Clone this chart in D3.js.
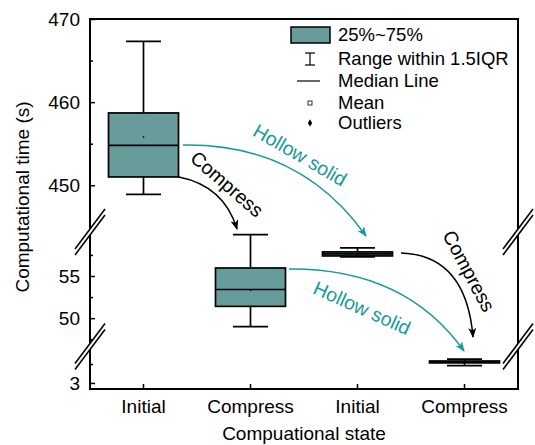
<!DOCTYPE html>
<html>
<head>
<meta charset="utf-8">
<script src="https://cdn.jsdelivr.net/npm/d3@7"></script>
<style>
  body { margin: 0; background: #fff; }
  text { font-family: "Liberation Sans", Arial, sans-serif; }
</style>
</head>
<body>
<script>
// box plot data (s)
const categories = ["Initial", "Compress", "Initial", "Compress"];
const whiskerLow = [448.9, 49.0, 57.26, 3.46];
const q1 = [451.0, 51.4, 57.38, 3.53];
const median = [454.8, 53.4, 57.62, 3.55];
const q3 = [458.7, 55.95, 57.86, 3.58];
const whiskerHigh = [467.3, 59.9, 58.33, 3.63];
const means = [455.8, 53.3, 57.6, 3.55];

// y axis pieces (broken axis)
const segTop = {domain: [444.5, 470], major: [450, 460, 470], minor: [445, 455, 465]};
const segMid = {domain: [46.7, 60.1], major: [50, 55], minor: [47.5, 52.5, 57.5]};
const segBot = {domain: [2.84, 3.95], major: [3], minor: [3.5]};

const legendLabels = ["25%~75%", "Range within 1.5IQR", "Median Line", "Mean", "Outliers"];

const width = 535, height = 445;
const margin = {top: 19, left: 90, right: 17, bottom: 56};
const plotW = width - margin.left - margin.right;
const plotH = height - margin.top - margin.bottom;
const boxFill = "#679c9b";
const teal = "#18999a";

const svg = d3.select("body").append("svg")
  .attr("width", width)
  .attr("height", height);

const g = svg.append("g")
  .attr("transform", `translate(${margin.left},${margin.top})`);

// scale for each segment (pixels inside plot group)
const yTop = d3.scaleLinear().domain(segTop.domain).range([212, 0]);
const yMid = d3.scaleLinear().domain(segMid.domain).range([327, 214]);
const yBot = d3.scaleLinear().domain(segBot.domain).range([plotH, 328]);
const yScales = [yTop, yMid, yMid, yBot];

const x = d3.scaleBand().domain(d3.range(categories.length)).range([0, plotW]);
const cx = i => x(i) + x.bandwidth() / 2;

// frame
g.append("rect")
  .attr("width", plotW).attr("height", plotH)
  .attr("fill", "none").attr("stroke", "#000").attr("stroke-width", 2);

// y ticks and labels
[[segTop, yTop], [segMid, yMid], [segBot, yBot]].forEach(([seg, sc]) => {
  const ax = g.append("g")
    .call(d3.axisLeft(sc).tickValues(seg.major).tickSize(-5).tickPadding(10).tickFormat(d3.format("d")));
  ax.select(".domain").remove();
  ax.selectAll("line").attr("stroke-width", 1.5);
  ax.selectAll("text").attr("font-size", 19).attr("fill", "#000")
    .style("font-family", "'Liberation Sans', Arial, sans-serif");
  const mn = g.append("g")
    .call(d3.axisLeft(sc).tickValues(seg.minor).tickSize(-3).tickFormat(""));
  mn.select(".domain").remove();
  mn.selectAll("line").attr("stroke-width", 1.5);
});

// x axis
const xa = g.append("g")
  .attr("transform", `translate(0,${plotH})`)
  .call(d3.axisBottom(x).tickSize(-5).tickPadding(11).tickFormat(i => categories[i]));
xa.select(".domain").remove();
xa.selectAll("line").attr("stroke-width", 1.5);
xa.selectAll("text").attr("font-size", 19).attr("fill", "#000")
  .style("font-family", "'Liberation Sans', Arial, sans-serif");

// axis titles
svg.append("text")
  .attr("transform", `translate(29,${margin.top + 178}) rotate(-90)`)
  .attr("text-anchor", "middle").attr("font-size", 19)
  .text("Computational time (s)");
svg.append("text")
  .attr("x", margin.left + plotW / 2).attr("y", 440)
  .attr("text-anchor", "middle").attr("font-size", 19)
  .text("Compuational state");

// axis breaks
function axisBreak(px, py) {
  const dx = 15, dy = 20, off = 3;
  const b = g.append("g");
  b.append("polygon")
    .attr("points", [[px - dx, py + dy - off], [px + dx, py - dy - off], [px + dx, py - dy + off], [px - dx, py + dy + off]].join(" "))
    .attr("fill", "#fff");
  [-off, off].forEach(o => {
    b.append("line")
      .attr("x1", px - dx).attr("y1", py + dy + o)
      .attr("x2", px + dx).attr("y2", py - dy + o)
      .attr("stroke", "#000").attr("stroke-width", 1.6);
  });
}
[213, 327.5].forEach(py => { axisBreak(0, py); axisBreak(plotW, py); });

// boxes
const boxW = 70, capW = 35;
categories.forEach((c, i) => {
  const y = yScales[i];
  const bx = g.append("g");
  bx.append("line")
    .attr("x1", cx(i)).attr("x2", cx(i))
    .attr("y1", y(whiskerHigh[i])).attr("y2", y(whiskerLow[i]))
    .attr("stroke", "#000").attr("stroke-width", 1.7);
  [whiskerHigh[i], whiskerLow[i]].forEach(v => {
    bx.append("line")
      .attr("x1", cx(i) - capW / 2).attr("x2", cx(i) + capW / 2)
      .attr("y1", y(v)).attr("y2", y(v))
      .attr("stroke", "#000").attr("stroke-width", 1.7);
  });
  bx.append("rect")
    .attr("x", cx(i) - boxW / 2).attr("width", boxW)
    .attr("y", y(q3[i])).attr("height", Math.max(0.5, y(q1[i]) - y(q3[i])))
    .attr("fill", boxFill).attr("stroke", "#000").attr("stroke-width", 1.7);
  bx.append("line")
    .attr("x1", cx(i) - boxW / 2).attr("x2", cx(i) + boxW / 2)
    .attr("y1", y(median[i])).attr("y2", y(median[i]))
    .attr("stroke", "#000").attr("stroke-width", 1.7);
  bx.append("rect")
    .attr("x", cx(i) - 0.75).attr("y", y(means[i]) - 0.75)
    .attr("width", 1.5).attr("height", 1.5)
    .attr("fill", "#000");
});

// arrow markers
const defs = svg.append("defs");
[["arrBlack", "#000"], ["arrTeal", teal]].forEach(([id, col]) => {
  defs.append("marker")
    .attr("id", id).attr("viewBox", "0 0 10 10")
    .attr("refX", 9).attr("refY", 5)
    .attr("markerWidth", 10).attr("markerHeight", 10)
    .attr("markerUnits", "userSpaceOnUse")
    .attr("orient", "auto")
    .append("path").attr("d", "M0,1 L10,5 L0,9 L2.5,5 Z").attr("fill", col);
});

// curved annotation arrows (page coords)
const ann = svg.append("g");
function curve(p0, c, p1, col, mk) {
  const p = d3.path();
  p.moveTo(p0[0], p0[1]);
  p.quadraticCurveTo(c[0], c[1], p1[0], p1[1]);
  ann.append("path").attr("d", p.toString())
    .attr("fill", "none").attr("stroke", col).attr("stroke-width", 1.5)
    .attr("marker-end", `url(#${mk})`);
}
curve([183, 145], [300, 143], [366, 236], teal, "arrTeal");
curve([179, 177], [224, 186], [237, 229], "#000", "arrBlack");
curve([289, 269], [405, 268], [464, 351], teal, "arrTeal");
curve([401, 253], [466, 255], [473, 337], "#000", "arrBlack");

function label(txt, px, py, ang, col) {
  ann.append("text")
    .attr("transform", `translate(${px},${py}) rotate(${ang})`)
    .attr("text-anchor", "middle").attr("dy", "0.35em")
    .attr("font-size", 19.5).attr("fill", col).text(txt);
}
label("Hollow solid", 300, 155, 30, teal);
label("Compress", 227, 184, 41, "#000");
label("Hollow solid", 362, 308, 24, teal);
label("Compress", 469, 271, 62, "#000");

// legend
const lg = svg.append("g");
const lx = 338, ly = [35, 59, 81, 103, 123];
lg.append("rect").attr("x", 291).attr("y", 27).attr("width", 39).attr("height", 16)
  .attr("fill", boxFill).attr("stroke", "#000").attr("stroke-width", 1.5);
lg.append("line").attr("x1", 310).attr("x2", 310).attr("y1", ly[1] - 6).attr("y2", ly[1] + 6)
  .attr("stroke", "#000").attr("stroke-width", 1.2);
[ly[1] - 6, ly[1] + 6].forEach(v => lg.append("line").attr("x1", 305).attr("x2", 315)
  .attr("y1", v).attr("y2", v).attr("stroke", "#000").attr("stroke-width", 1.2));
lg.append("line").attr("x1", 297).attr("x2", 320).attr("y1", ly[2]).attr("y2", ly[2])
  .attr("stroke", "#000").attr("stroke-width", 1.2);
lg.append("rect").attr("x", 308).attr("y", ly[3] - 2).attr("width", 4).attr("height", 4)
  .attr("fill", "#fff").attr("stroke", "#000").attr("stroke-width", 0.8);
lg.append("path").attr("d", d3.symbol(d3.symbolDiamond, 16)()).attr("transform", `translate(310,${ly[4]})`)
  .attr("fill", "#000");
legendLabels.forEach((t, i) => {
  lg.append("text").attr("x", lx).attr("y", ly[i]).attr("dy", "0.35em")
    .attr("font-size", 18.5).text(t);
});
</script>
</body>
</html>
